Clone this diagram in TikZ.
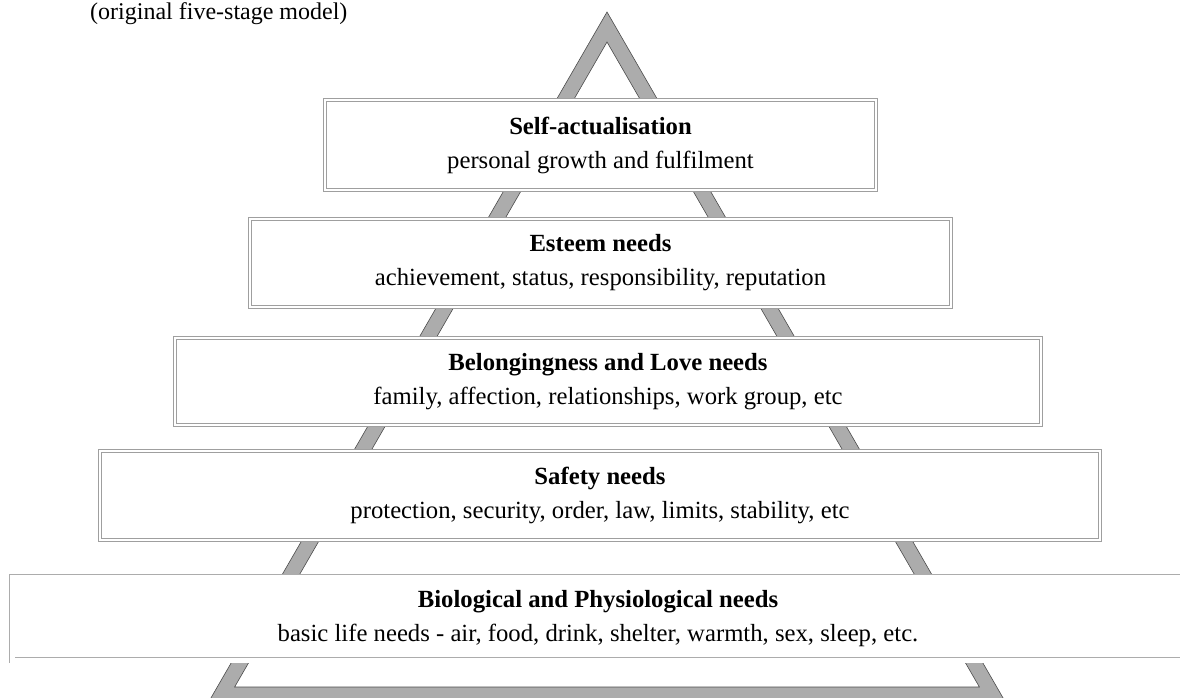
\documentclass[tikz,border=0pt]{standalone}
\usepackage{fontspec}
\setmainfont{Liberation Serif}
\begin{document}
\begin{tikzpicture}[x=1pt,y=-1pt,
  level/.style={draw=gray!75, line width=0.7pt, double=white, double distance=2.2pt,
    fill=white, inner sep=0pt, align=center, font=\fontsize{24.7}{34}\selectfont},
  baselevel/.style={level, draw=gray!65, double distance=5pt},
  band/.style={fill=gray!65, draw=black!70, line width=0.6pt, even odd rule},
  caption/.style={font=\fontsize{24}{28}\selectfont, inner sep=0pt}]
\useasboundingbox (0,0) rectangle (1180,697);
\clip (0,0) rectangle (1180,697);
% pyramid outline (thick band)
\path[band] (607,12) -- (1005.4,702) -- (208.6,702) -- cycle
            (607,42) -- (979.4,687) -- (234.6,687) -- cycle;
% levels
\node[level, minimum width=551pt, minimum height=90pt] (self) at (600.5,145)
  {\textbf{Self-actualisation}\\personal growth and fulfilment};
\node[level, minimum width=701pt, minimum height=88pt] (esteem) at (600.5,263)
  {\textbf{Esteem needs}\\achievement, status, responsibility, reputation};
\node[level, minimum width=866pt, minimum height=87pt] (love) at (608,381.5)
  {\textbf{Belongingness and Love needs}\\family, affection, relationships, work group, etc};
\node[level, minimum width=1000pt, minimum height=89pt] (safety) at (600,495.5)
  {\textbf{Safety needs}\\protection, security, order, law, limits, stability, etc};
\node[baselevel, minimum width=1172pt, minimum height=83pt] (bio) at (598,618.5)
  {\textbf{Biological and Physiological needs}\\basic life needs - air, food, drink, shelter, warmth, sex, sleep, etc.};
% caption
\node[caption, anchor=base west] (title) at (90,19) {(original five-stage model)};
\end{tikzpicture}
\end{document}
